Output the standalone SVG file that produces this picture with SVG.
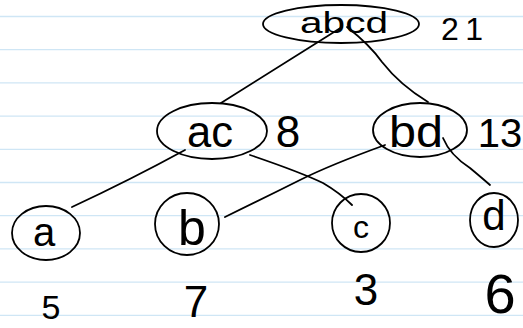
<svg xmlns="http://www.w3.org/2000/svg" width="523" height="328" viewBox="0 0 523 328">
<style>
.rule{stroke:#cfe6f5;stroke-width:1.3}
.ink{fill:none;stroke:#000;stroke-width:1.8;stroke-linecap:round}
.t{font-family:"Liberation Sans","DejaVu Sans",sans-serif;fill:#000;text-anchor:middle}
</style>
<rect width="523" height="328" fill="#fff"/>
<g id="paper">
<line class="rule" x1="0" y1="16.5" x2="523" y2="16.5"/>
<line class="rule" x1="0" y1="49.7" x2="523" y2="49.7"/>
<line class="rule" x1="0" y1="82.9" x2="523" y2="82.9"/>
<line class="rule" x1="0" y1="116.1" x2="523" y2="116.1"/>
<line class="rule" x1="0" y1="149.3" x2="523" y2="149.3"/>
<line class="rule" x1="0" y1="182.5" x2="523" y2="182.5"/>
<line class="rule" x1="0" y1="215.7" x2="523" y2="215.7"/>
<line class="rule" x1="0" y1="248.9" x2="523" y2="248.9"/>
<line class="rule" x1="0" y1="282.1" x2="523" y2="282.1"/>
<line class="rule" x1="0" y1="315.3" x2="523" y2="315.3"/>
</g>
<g id="connectors">
<path class="ink" d="M342,27 L221,103"/>
<path class="ink" d="M347,27 Q370,45 382,62 Q400,85 428,102"/>
<path class="ink" d="M185,150 Q130,180 72,207"/>
<path class="ink" d="M250,155 Q300,172 323,183 Q340,193 352,205"/>
<path class="ink" d="M385,145 Q330,165 300,180 Q260,200 225,217"/>
<path class="ink" d="M443,138 Q450,155 470,168 Q482,178 490,185"/>
</g>
<g id="node-abcd">
<ellipse class="ink" cx="341" cy="24" rx="78" ry="19"/>
<text class="t" x="344" y="33" font-size="30" textLength="88" lengthAdjust="spacingAndGlyphs">abcd</text>
<text class="t" x="462" y="40" font-size="32" textLength="42" lengthAdjust="spacing">21</text>
</g>
<g id="node-ac">
<ellipse class="ink" cx="212" cy="131" rx="55" ry="28"/>
<text class="t" x="210" y="147" font-size="44" textLength="46" lengthAdjust="spacingAndGlyphs">ac</text>
<text class="t" x="288" y="147" font-size="44">8</text>
</g>
<g id="node-bd">
<ellipse class="ink" cx="420" cy="130" rx="47" ry="27"/>
<text class="t" x="416" y="147" font-size="44" textLength="54" lengthAdjust="spacingAndGlyphs">bd</text>
<text class="t" x="500" y="147" font-size="40">13</text>
</g>
<g id="node-a">
<ellipse class="ink" cx="46" cy="233" rx="34" ry="27"/>
<text class="t" x="44" y="246" font-size="40">a</text>
<text class="t" x="51" y="319" font-size="34">5</text>
</g>
<g id="node-b">
<ellipse class="ink" cx="187" cy="224" rx="32" ry="31"/>
<text class="t" x="192" y="245" font-size="50">b</text>
<text class="t" x="196" y="317" font-size="44">7</text>
</g>
<g id="node-c">
<ellipse class="ink" cx="361" cy="223" rx="29" ry="29"/>
<text class="t" x="361" y="238" font-size="32">c</text>
<text class="t" x="366" y="305" font-size="44">3</text>
</g>
<g id="node-d">
<ellipse class="ink" cx="494" cy="220" rx="24" ry="27"/>
<text class="t" x="494" y="230" font-size="42">d</text>
<text class="t" x="500" y="313" font-size="56">6</text>
</g>
</svg>
